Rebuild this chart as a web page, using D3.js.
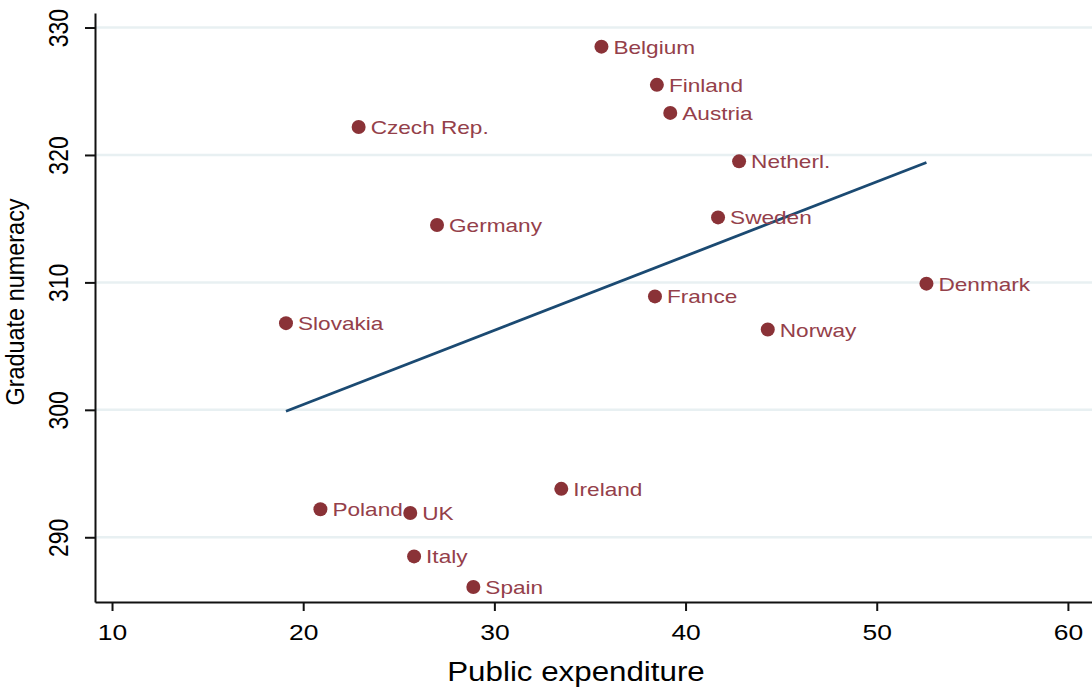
<!DOCTYPE html>
<html>
<head>
<meta charset="utf-8">
<script src="https://cdn.jsdelivr.net/npm/d3@7"></script>
<style>
html,body{margin:0;padding:0;background:#fff;}
svg{display:block;font-family:"Liberation Sans",Arial,sans-serif;}
</style>
</head>
<body>
<svg id="chart" width="1092" height="688"></svg>
<script>
const countries = ["Belgium","Finland","Austria","Czech Rep.","Netherl.","Germany","Sweden","Denmark","France","Slovakia","Norway","Ireland","Poland","UK","Italy","Spain"];
const expenditure = [35.6,38.5,39.2,22.9,42.8,27.0,41.7,52.6,38.4,19.1,44.3,33.5,20.9,25.6,25.8,28.9];
const numeracy = [328.5,325.5,323.3,322.2,319.5,314.5,315.1,309.9,308.9,306.8,306.3,293.8,292.2,291.9,288.5,286.1];
const xTicks = [10,20,30,40,50,60];
const yTicks = [290,300,310,320,330];

(function () {
const svg = d3.select("#chart");
const mLeft = 95, mRight = 1092, mTop = 13, mBottom = 602;
const x = d3.scaleLinear().domain([9.11, 61.26]).range([mLeft, mRight]);
const y = d3.scaleLinear().domain([284.92, 331.14]).range([mBottom, mTop]);

// gridlines
svg.append("g").selectAll("line").data(yTicks).join("line")
  .attr("x1", mLeft).attr("x2", mRight)
  .attr("y1", d => y(d)).attr("y2", d => y(d))
  .attr("stroke", "#e8f0f2").attr("stroke-width", 2.5);

// axes
const xAxis = svg.append("g").attr("transform", `translate(0,${mBottom})`)
  .call(d3.axisBottom(x).tickValues(xTicks).tickSize(9).tickSizeOuter(0));
xAxis.select(".domain").attr("stroke", "#111").attr("stroke-width", 2);
xAxis.selectAll(".tick line").attr("stroke", "#111").attr("stroke-width", 2);
xAxis.selectAll(".tick text").remove();
xAxis.selectAll(".tick").append("text")
  .attr("transform", "translate(0,38) scale(1.2,1)")
  .attr("text-anchor", "middle").attr("fill", "#000")
  .attr("font-size", 22)
  .text(d => d);

const yAxis = svg.append("g").attr("transform", `translate(${mLeft},0)`)
  .call(d3.axisLeft(y).tickValues(yTicks).tickSize(10).tickSizeOuter(0));
yAxis.select(".domain").attr("stroke", "#111").attr("stroke-width", 2);
yAxis.selectAll(".tick line").attr("stroke", "#111").attr("stroke-width", 2);
yAxis.selectAll(".tick text").remove();
yAxis.selectAll(".tick").append("text")
  .attr("transform", "translate(-27,0) rotate(-90) scale(1,1.2)")
  .attr("text-anchor", "middle").attr("fill", "#000")
  .attr("font-size", 23)
  .text(d => d);

// axis titles
svg.append("text")
  .attr("transform", "translate(576,681) scale(1.16,1)")
  .attr("text-anchor", "middle").attr("font-size", 27).attr("fill", "#000")
  .text("Public expenditure");
svg.append("text")
  .attr("transform", "translate(24,302) rotate(-90) scale(1.02,1.1)")
  .attr("text-anchor", "middle").attr("font-size", 23).attr("fill", "#000")
  .text("Graduate numeracy");

// regression line
const data = countries.map((c, i) => ({c, x: expenditure[i], y: numeracy[i]}));
const mx = d3.mean(data, d => d.x), my = d3.mean(data, d => d.y);
const slope = d3.sum(data, d => (d.x - mx) * (d.y - my)) / d3.sum(data, d => (d.x - mx) ** 2);
const icpt = my - slope * mx;
const [x0, x1] = d3.extent(data, d => d.x);
svg.append("line")
  .attr("x1", x(x0)).attr("y1", y(icpt + slope * x0))
  .attr("x2", x(x1)).attr("y2", y(icpt + slope * x1))
  .attr("stroke", "#1b4a72").attr("stroke-width", 2.8);

// points
const pts = svg.append("g").selectAll("g").data(data).join("g")
  .attr("transform", d => `translate(${x(d.x)},${y(d.y)})`);
pts.append("circle").attr("r", 7).attr("fill", "#8a3237");
pts.append("text")
  .attr("transform", "translate(12,7) scale(1.19,1)")
  .attr("font-size", 19).attr("fill", "#94404a")
  .text(d => d.c);
})();
</script>
</body>
</html>
